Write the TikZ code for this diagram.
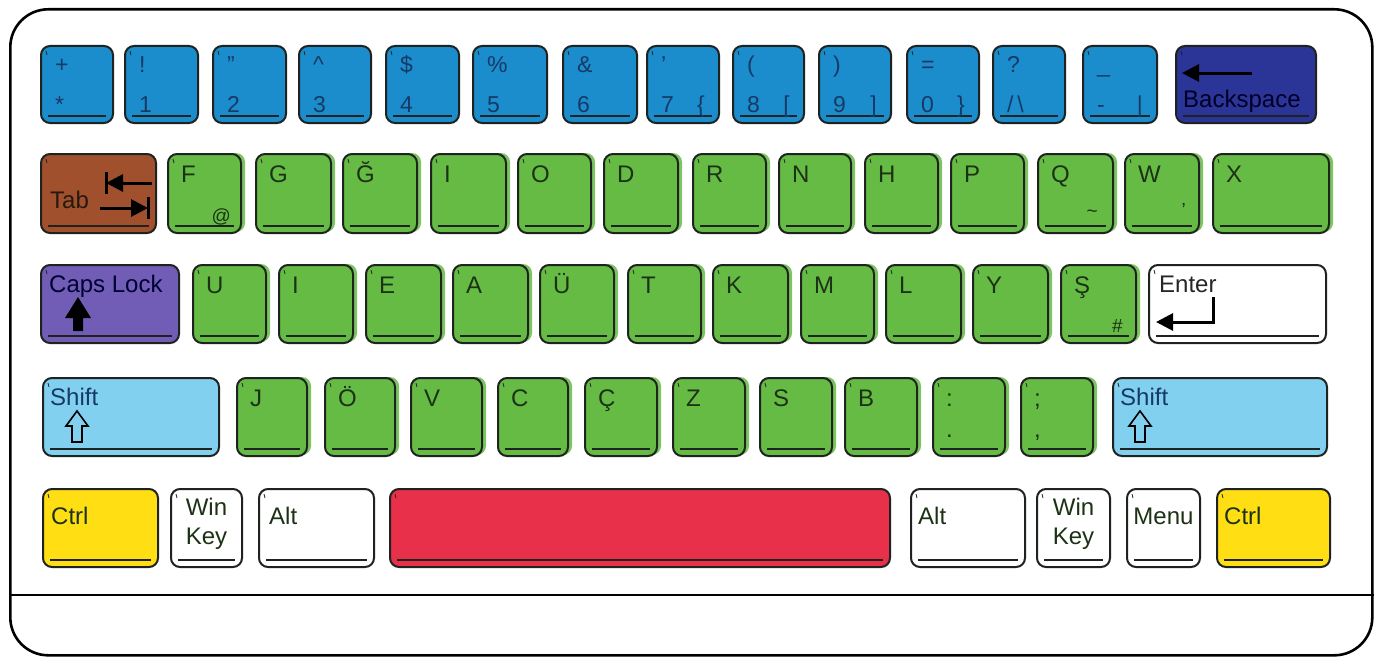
\documentclass[tikz,border=0pt]{standalone}
\usepackage{fontspec}
\setmainfont{Liberation Sans}
\usetikzlibrary{arrows.meta, positioning, calc}

\definecolor{numblue}{HTML}{1B8CCC}
\definecolor{bsblue}{HTML}{2B3497}
\definecolor{tabbrown}{HTML}{A0502D}
\definecolor{keygreen}{HTML}{66BB44}
\definecolor{capspurple}{HTML}{715DB5}
\definecolor{shiftblue}{HTML}{82D0F0}
\definecolor{ctrlyellow}{HTML}{FFDE14}
\definecolor{spacered}{HTML}{E8304A}
\definecolor{keyline}{HTML}{1E2320}
\definecolor{numtext}{HTML}{163A66}
\definecolor{gtext}{HTML}{1C3214}

\begin{document}
\begin{tikzpicture}[
        x=1pt, y=-1pt,
        font=\fontsize{24}{26}\selectfont,
        >={Triangle[length=17pt, width=17pt]},
        key/.style={draw=keyline, line width=2pt, rounded corners=9pt, anchor=north west,
            inner sep=0pt, minimum height=78pt,
            path picture={
                \draw[keyline, line width=1.2pt]
                    ([shift={(7pt,7pt)}]path picture bounding box.south west) --
                    ([shift={(-7pt,7pt)}]path picture bounding box.south east);
                \draw[keyline, line width=0.8pt]
                    ([shift={(5pt,-5pt)}]path picture bounding box.north west) -- ++(1pt,-4pt);
            }},
        numkey/.style={key, fill=numblue, minimum height=77pt},
        gkey/.style={key, fill=keygreen,
            preaction={fill=keygreen!85!white, draw=none,
                transform canvas={xshift=4pt, yshift=1pt}}},
        wkey/.style={key, fill=white},
        lbl/.style={anchor=base west, inner sep=0pt, text=gtext},
        nlbl/.style={lbl, text=numtext, font=\fontsize{23}{25}\selectfont},
        rlbl/.style={lbl, anchor=base east},
        sub/.style={rlbl, font=\fontsize{19}{21}\selectfont},
        icon/.style={line width=3pt, draw=black}
    ]
        \useasboundingbox (0,0) rectangle (1383,661);

        % --- Kasa ---
        \node[draw=black, line width=2.6pt, rounded corners=38pt, anchor=north west,
              minimum width=1362pt, minimum height=646pt] (case) at (9,8) {};
        \coordinate (divy) at (0,595);
        \draw[line width=2pt] (case.west |- divy) -- (case.east |- divy);

        % --- 1. sira: rakamlar ---
        \foreach \x/\w/\up/\lo/\rt [count=\i] in {
                40/72/+/*/{}, 124/73/!/1/{}, 212/73/"/2/{}, 298/72/\^{}/3/{},
                385/73/\$/4/{}, 472/74/\%/5/{}, 562/74/\&/6/{}, 646/72/'/7/\{,
                732/71/(/8/[, 818/72/)/9/], 906/72/=/0/\}, 992/72/?/{/\,\textbackslash}/{},
                1082/74/\_/-/|} {
            \node[numkey, minimum width=\w pt] (n\i) at (\x,45) {};
            \node[nlbl] at ([shift={(15pt,-28pt)}]n\i.north west) {\up};
            \node[nlbl] at ([shift={(15pt,-67pt)}]n\i.north west) {\lo};
            \node[nlbl, anchor=base east] at ([shift={(-15pt,-67pt)}]n\i.north east) {\rt};
        }
        \node[key, fill=bsblue, minimum width=140pt, minimum height=77pt] (bksp) at (1175,45) {};
        \node[lbl, text=black!85!blue] at ([shift={(8pt,-62pt)}]bksp.north west) {Backspace};
        \draw[icon, ->] (1252,73) -- (1182,73);

        % --- 2. sira ---
        \node[key, fill=tabbrown, minimum width=115pt, minimum height=79pt] (tab) at (40,153) {};
        \node[lbl, text=black!80!brown] at ([shift={(10pt,-55pt)}]tab.north west) {Tab};
        \draw[icon, ->] (152,183) -- (106,183);
        \draw[icon] (106,172) -- (106,194);
        \draw[icon, ->] (100,208) -- (148,208);
        \draw[icon] (148,197) -- (148,219);
        \foreach \x/\w/\t [count=\i] in {
                167/73/F, 255/75/G, 342/74/Ğ, 430/75/I, 517/73/O, 603/74/D, 692/73/R,
                778/72/N, 864/73/H, 950/73/P, 1037/75/Q, 1124/74/W, 1212/116/X} {
            \node[gkey, minimum width=\w pt, minimum height=79pt] (a\i) at (\x,153) {};
            \node[lbl] at ([shift={(14pt,-29pt)}]a\i.north west) {\t};
        }
        \node[sub] at ([shift={(-11pt,12pt)}]a1.south east) {@};
        \node[sub] at ([shift={(-16pt,17pt)}]a11.south east) {\~{}};
        \node[sub] at ([shift={(-14pt,18pt)}]a12.south east) {'};

        % --- 3. sira ---
        \node[key, fill=capspurple, minimum width=138pt] (caps) at (40,264) {};
        \node[lbl, text=black!80!blue] at ([shift={(9pt,-28pt)}]caps.north west) {Caps Lock};
        \fill (78,297) -- (91,318) -- (83,318) -- (83,331) -- (73,331) -- (73,318) -- (65,318) -- cycle;
        \foreach \x/\w/\t [count=\i] in {
                192/73/U, 278/74/I, 365/75/E, 452/75/A, 539/74/Ü, 627/73/T,
                712/75/K, 800/73/M, 885/75/L, 972/75/Y, 1060/75/Ş} {
            \node[gkey, minimum width=\w pt] (b\i) at (\x,264) {};
            \node[lbl] at ([shift={(14pt,-29pt)}]b\i.north west) {\t};
        }
        \node[sub] at ([shift={(-14pt,12pt)}]b11.south east) {\#};
        \node[wkey, minimum width=177pt] (enter) at (1148,264) {};
        \node[lbl, text=black!85] at ([shift={(11pt,-28pt)}]enter.north west) {Enter};
        \draw[icon, ->, line width=3pt] (1213,297) -- (1213,322) -- (1156,322);

        % --- 4. sira ---
        \node[key, fill=shiftblue, minimum width=176pt] (lshift) at (42,377) {};
        \node[lbl, text=numtext] at ([shift={(8pt,-28pt)}]lshift.north west) {Shift};
        \foreach \x/\w/\t/\lo [count=\i] in {
                236/70/J/{}, 324/70/Ö/{}, 410/71/V/{}, 497/70/C/{}, 584/72/Ç/{},
                672/72/Z/{}, 759/72/S/{}, 844/72/B/{}, 932/72/:/{.}, 1020/72/;/{,}} {
            \node[gkey, minimum width=\w pt] (c\i) at (\x,377) {};
            \node[lbl] at ([shift={(14pt,-29pt)}]c\i.north west) {\t};
            \node[lbl] at ([shift={(14pt,-60pt)}]c\i.north west) {\lo};
        }
        \node[key, fill=shiftblue, minimum width=214pt] (rshift) at (1112,377) {};
        \node[lbl, text=numtext] at ([shift={(8pt,-28pt)}]rshift.north west) {Shift};
        \foreach \ax in {77,1140} {
            \draw[line width=1.6pt]
                (\ax,411) -- (\ax+11,426) -- (\ax+5,426) -- (\ax+5,442) --
                (\ax-5,442) -- (\ax-5,426) -- (\ax-11,426) -- cycle;
        }

        % --- 5. sira ---
        \node[key, fill=ctrlyellow, minimum width=115pt] (lctrl) at (42,488) {};
        \node[lbl] at ([shift={(9pt,-36pt)}]lctrl.north west) {Ctrl};
        \node[wkey, minimum width=71pt] (lwin) at (170,488) {};
        \node[lbl, anchor=base] at ([shift={(0pt,-27pt)}]lwin.north) {Win};
        \node[lbl, anchor=base] at ([shift={(0pt,-56pt)}]lwin.north) {Key};
        \node[wkey, minimum width=115pt] (lalt) at (258,488) {};
        \node[lbl] at ([shift={(11pt,-36pt)}]lalt.north west) {Alt};
        \node[key, fill=spacered, minimum width=500pt] (space) at (389,488) {};
        \node[wkey, minimum width=114pt] (ralt) at (910,488) {};
        \node[lbl] at ([shift={(8pt,-36pt)}]ralt.north west) {Alt};
        \node[wkey, minimum width=73pt] (rwin) at (1036,488) {};
        \node[lbl, anchor=base] at ([shift={(0pt,-27pt)}]rwin.north) {Win};
        \node[lbl, anchor=base] at ([shift={(0pt,-56pt)}]rwin.north) {Key};
        \node[wkey, minimum width=73pt] (menu) at (1126,488) {};
        \node[lbl, anchor=base] at ([shift={(0pt,-36pt)}]menu.north) {Menu};
        \node[key, fill=ctrlyellow, minimum width=113pt] (rctrl) at (1216,488) {};
        \node[lbl] at ([shift={(8pt,-36pt)}]rctrl.north west) {Ctrl};
    \end{tikzpicture}
\end{document}
